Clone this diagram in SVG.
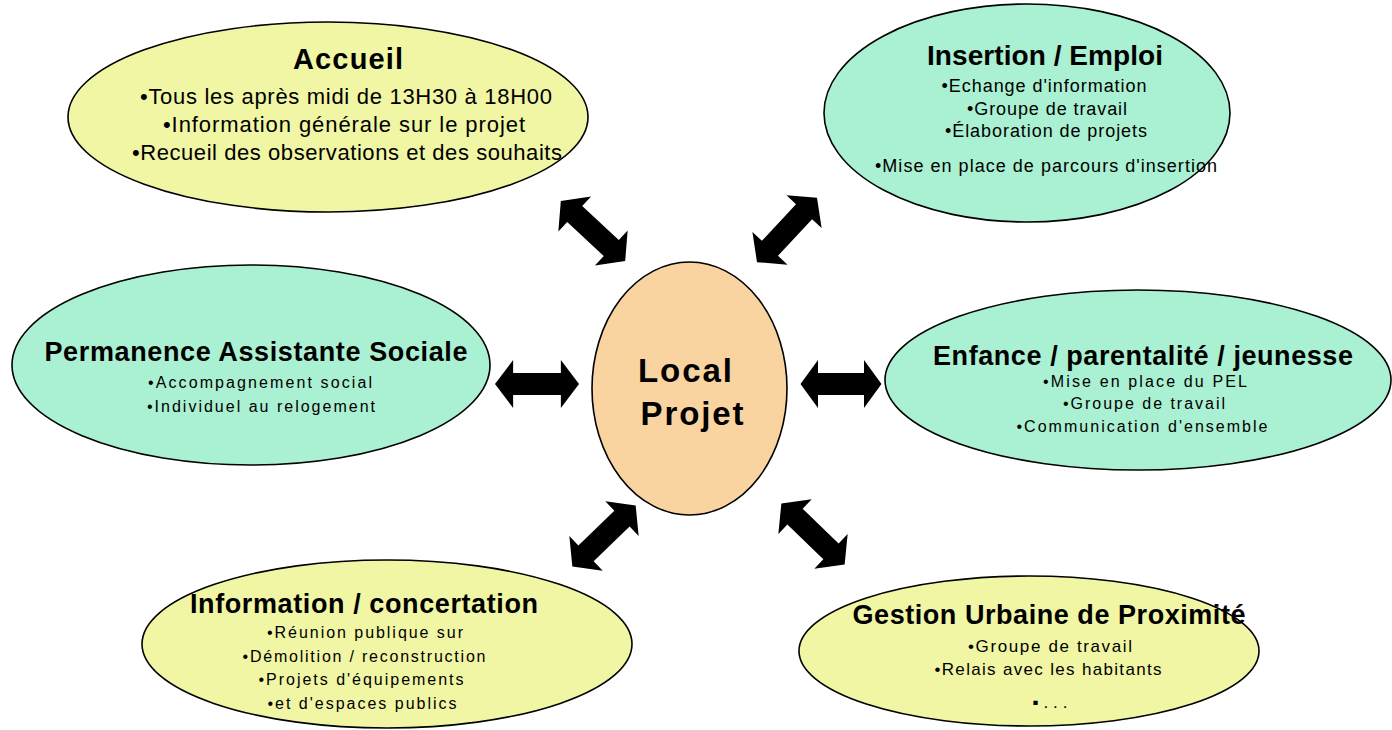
<svg xmlns="http://www.w3.org/2000/svg" xmlns:xlink="http://www.w3.org/1999/xlink" width="1392" height="730" viewBox="0 0 1392 730">
<style>
  .node { stroke: #000; stroke-width: 1.6; }
  .yellow { fill: #F0F6A4; }
  .green { fill: #AAF0D2; }
  .orange { fill: #F9D4A0; }
  text { font-family: "Liberation Sans", Arial, sans-serif; fill: #000; text-anchor: middle; }
  .title { font-weight: bold; font-size: 27px; }
  .center { font-weight: bold; font-size: 33px; }
  .body { font-size: 16px; }
  .body-lg { font-size: 22px; }
  .arrow { fill: #000; }
</style>
<defs>
  <path id="dbl" d="M-44,0 L-25,-24 L-25,-11 L25,-11 L25,-24 L44,0 L25,24 L25,11 L-25,11 L-25,24 Z"/>
</defs>
<rect width="1392" height="730" fill="#fff"/>

<g id="connectors" class="arrow">
  <use xlink:href="#dbl" transform="translate(537,384) scale(0.955,1)"/>
  <use xlink:href="#dbl" transform="translate(841,384) scale(0.92,1)"/>
  <use xlink:href="#dbl" transform="translate(593,231) rotate(43)"/>
  <use xlink:href="#dbl" transform="translate(787,230) rotate(-47)"/>
  <use xlink:href="#dbl" transform="translate(604,536) rotate(-44)"/>
  <use xlink:href="#dbl" transform="translate(813,534) rotate(44)"/>
</g>

<g id="accueil">
  <ellipse class="node yellow" cx="328" cy="117" rx="260" ry="95"/>
  <text class="title" x="348" y="69" textLength="110" lengthAdjust="spacing" style="font-size:29px">Accueil</text>
  <text class="body-lg" x="346" y="104" textLength="412" lengthAdjust="spacing">•Tous les après midi de 13H30 à 18H00</text>
  <text class="body-lg" x="344" y="132" textLength="362" lengthAdjust="spacing">•Information générale sur le projet</text>
  <text class="body-lg" x="347" y="160" textLength="430" lengthAdjust="spacing">•Recueil des observations et des souhaits</text>
</g>

<g id="insertion">
  <ellipse class="node green" cx="1027" cy="113" rx="203" ry="109"/>
  <text class="title" x="1045" y="65" textLength="236" lengthAdjust="spacing" style="font-size:28px">Insertion / Emploi</text>
  <text class="body" x="1044" y="92" textLength="205" lengthAdjust="spacing" style="font-size:18px">•Echange d'information</text>
  <text class="body" x="1047" y="115" textLength="160" lengthAdjust="spacing" style="font-size:18px">•Groupe de travail</text>
  <text class="body" x="1046" y="137" textLength="202" lengthAdjust="spacing" style="font-size:18px">•Élaboration de projets</text>
  <text class="body" x="1046" y="172" textLength="342" lengthAdjust="spacing" style="font-size:18px">•Mise en place de parcours d'insertion</text>
</g>

<g id="permanence">
  <ellipse class="node green" cx="251" cy="365" rx="239" ry="100"/>
  <text class="title" x="256" y="361" textLength="423" lengthAdjust="spacing">Permanence Assistante Sociale</text>
  <text class="body" x="260" y="388" textLength="224">•Accompagnement social</text>
  <text class="body" x="261" y="412" textLength="228">•Individuel au relogement</text>
</g>

<g id="enfance">
  <ellipse class="node green" cx="1138" cy="380" rx="253" ry="90"/>
  <text class="title" x="1143" y="365" textLength="420" lengthAdjust="spacing">Enfance / parentalité / jeunesse</text>
  <text class="body" x="1145" y="387" textLength="204">•Mise en place du PEL</text>
  <text class="body" x="1144" y="409" textLength="162">•Groupe de travail</text>
  <text class="body" x="1142" y="432" textLength="251">•Communication d'ensemble</text>
</g>

<g id="information">
  <ellipse class="node yellow" cx="387" cy="644" rx="245" ry="84"/>
  <text class="title" x="364" y="613" textLength="348" lengthAdjust="spacing">Information / concertation</text>
  <text class="body" x="365" y="638" textLength="196">•Réunion publique sur</text>
  <text class="body" x="364" y="662" textLength="243">•Démolition / reconstruction</text>
  <text class="body" x="361" y="685" textLength="205">•Projets d'équipements</text>
  <text class="body" x="362" y="709" textLength="189">•et d'espaces publics</text>
</g>

<g id="gestion">
  <ellipse class="node yellow" cx="1029" cy="651" rx="230" ry="75"/>
  <text class="title" x="1049" y="624" textLength="393" lengthAdjust="spacing">Gestion Urbaine de Proximité</text>
  <text class="body" x="1050" y="652" textLength="164" style="font-size:17px">•Groupe de travail</text>
  <text class="body" x="1048" y="675" textLength="227" style="font-size:17px">•Relais avec les habitants</text>
  <text class="body" x="1050" y="708" textLength="35" style="font-size:17px">▪...</text>
</g>

<g id="local-projet">
  <ellipse class="node orange" cx="689.5" cy="388.5" rx="97.5" ry="126.5"/>
  <text class="center" x="685" y="382" textLength="94" lengthAdjust="spacing">Local</text>
  <text class="center" x="692" y="425" textLength="103" lengthAdjust="spacing">Projet</text>
</g>
</svg>
